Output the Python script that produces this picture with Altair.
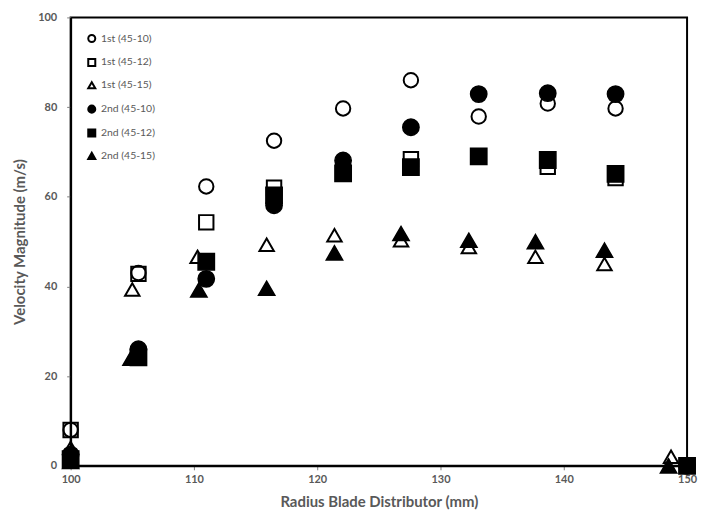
import altair as alt
import pandas as pd

series_names = ["1st (45-10)", "1st (45-12)", "1st (45-15)",
                "2nd (45-10)", "2nd (45-12)", "2nd (45-15)"]

radius_round = [100, 105.5, 111.0, 116.5, 122.1, 127.6, 133.1, 138.7, 144.2, 150.0]
radius_tri_open = [100, 105.0, 110.3, 115.9, 121.4, 126.8, 132.3, 137.7, 143.3, 148.7]
radius_tri_filled = [100, 104.9, 110.4, 115.9, 121.4, 126.8, 132.3, 137.7, 143.3, 148.5]

v_1st_10 = [8.0, 43.0, 62.3, 72.5, 79.7, 86.0, 77.9, 80.8, 79.7, 0.0]
v_1st_12 = [8.0, 42.8, 54.3, 62.0, 65.5, 68.4, 69.0, 66.7, 64.2, 0.0]
v_1st_15 = [4.0, 39.3, 46.6, 49.3, 51.4, 50.3, 48.8, 46.6, 45.0, 2.0]
v_2nd_10 = [2.5, 26.0, 41.7, 58.1, 68.1, 75.5, 82.9, 83.1, 82.9, 0.0]
v_2nd_12 = [1.5, 24.2, 45.5, 60.3, 65.2, 66.6, 69.0, 68.2, 65.1, 0.0]
v_2nd_15 = [1.0, 24.0, 39.2, 39.6, 47.5, 51.8, 50.3, 50.0, 48.1, 0.0]

shape_range = ["circle", "square", "triangle-up", "circle", "square", "triangle-up"]
fill_range = ["transparent", "transparent", "transparent", "black", "black", "black"]
stroke_range = ["black"] * 6

x_lists = [radius_round, radius_round, radius_tri_open,
           radius_round, radius_round, radius_tri_filled]
y_lists = [v_1st_10, v_1st_12, v_1st_15, v_2nd_10, v_2nd_12, v_2nd_15]

rows = []
for i, (name, xs, ys) in enumerate(zip(series_names, x_lists, y_lists)):
    for xv, yv in zip(xs, ys):
        rows.append({"series": name, "radius": xv, "velocity": yv,
                     "kind": "open" if i < 3 else "filled"})
df = pd.DataFrame(rows)

FONT = "Lato"
GRAY = "#595959"

legend = alt.Legend(title=None, orient="none", legendX=16, legendY=16,
                    symbolSize=50, symbolStrokeWidth=2,
                    rowPadding=8, labelOffset=4,
                    labelFont=FONT, labelFontSize=10.5, labelColor=GRAY)

x_enc = alt.X("radius:Q",
              scale=alt.Scale(domain=[100, 150], nice=False, zero=False),
              axis=alt.Axis(title="Radius Blade Distributor (mm)",
                            values=[100, 110, 120, 130, 140, 150],
                            grid=False, tickSize=4, labelPadding=4,
                            labelFlush=False, titlePadding=10))
y_enc = alt.Y("velocity:Q",
              scale=alt.Scale(domain=[0, 100], nice=False),
              axis=alt.Axis(title="Velocity Magnitude (m/s)",
                            values=[0, 20, 40, 60, 80, 100],
                            grid=False, tickSize=4, labelPadding=10,
                            labelFlush=False, titlePadding=10))
shape_enc = alt.Shape("series:N",
                      scale=alt.Scale(domain=series_names, range=shape_range),
                      legend=legend)
fill_enc = alt.Fill("series:N",
                    scale=alt.Scale(domain=series_names, range=fill_range),
                    legend=legend)
stroke_enc = alt.Stroke("series:N",
                        scale=alt.Scale(domain=series_names, range=stroke_range),
                        legend=legend)

base = alt.Chart(df).encode(x=x_enc, y=y_enc, shape=shape_enc,
                            fill=fill_enc, stroke=stroke_enc)

open_layer = base.mark_point(
    strokeWidth=2, opacity=1, size=210
).transform_filter(alt.datum.kind == "open")
filled_layer = base.mark_point(
    strokeWidth=1.5, opacity=1, size=270
).transform_filter(alt.datum.kind == "filled")

chart = alt.layer(open_layer, filled_layer).properties(
    width=620, height=451,
    autosize=alt.AutoSizeParams(type="none"),
    padding={"left": 63, "top": 8, "right": 11, "bottom": 46},
).configure_view(
    stroke="black", strokeWidth=2
).configure_axis(
    domainColor="black", domainWidth=2,
    tickColor="#7f7f7f", tickWidth=1,
    labelFont=FONT, labelFontSize=11, labelFontWeight="bold", labelColor=GRAY,
    titleFont=FONT, titleFontSize=15, titleFontWeight="bold", titleColor=GRAY,
)

chart.save("out.html", embed_options={"renderer": "svg", "actions": False})
